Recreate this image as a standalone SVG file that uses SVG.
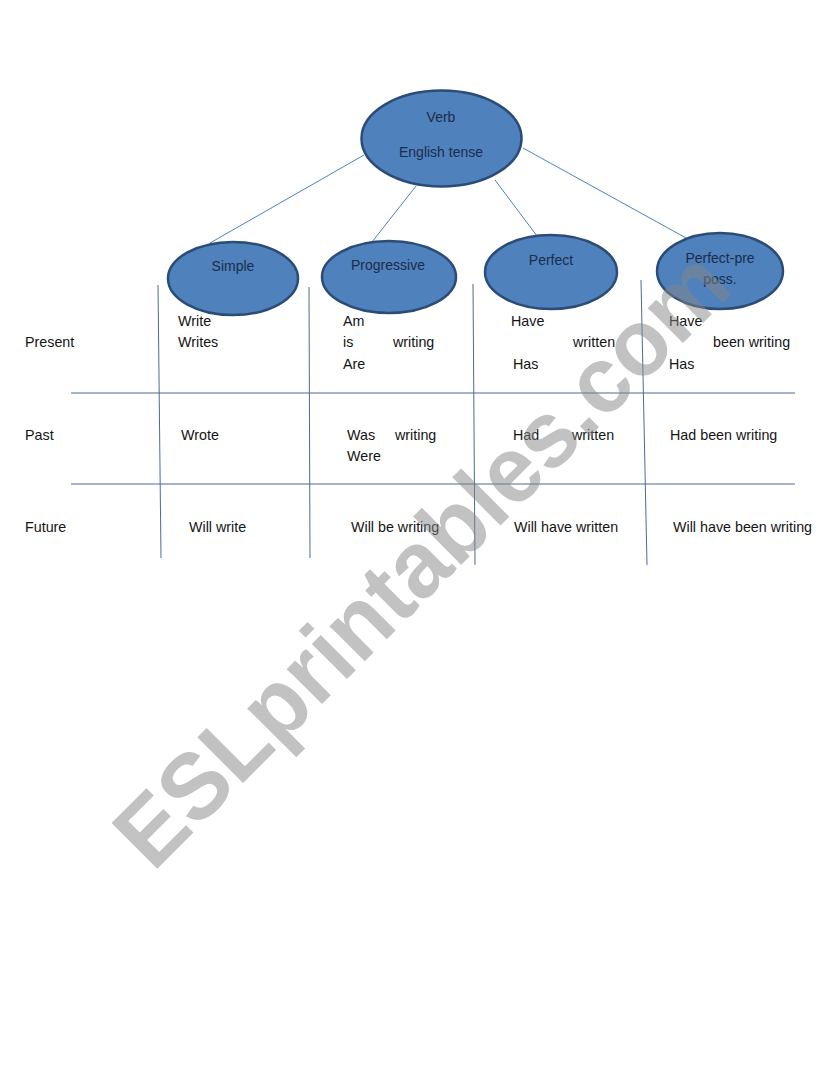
<svg xmlns="http://www.w3.org/2000/svg" width="838" height="1086" viewBox="0 0 838 1086">
<style>
.bg{fill:#ffffff}
.node ellipse{fill:#4f81bd;stroke:#2b4c76;stroke-width:2.5}
.node text{font-family:"Liberation Sans",Arial,sans-serif;font-size:14px;fill:#1d2c4a;text-anchor:middle}
.conn line{stroke:#4f81bd;stroke-width:1}
.grid line{stroke:#4d6b93;stroke-width:1}
.cell{font-family:"Liberation Sans",Arial,sans-serif;font-size:14.3px;fill:#141414}
.wm{font-family:"Liberation Sans",Arial,sans-serif;font-weight:bold;font-size:94px;fill:#858585;fill-opacity:0.5}
</style>
<rect class="bg" x="0" y="0" width="838" height="1086"/>
<g id="connectors" class="conn">
<line x1="364" y1="155" x2="210" y2="243"/>
<line x1="416" y1="186" x2="372" y2="242"/>
<line x1="495" y1="180" x2="537" y2="236"/>
<line x1="523" y1="148" x2="686" y2="238"/>
</g>
<g id="node-verb" class="node">
<ellipse cx="441.5" cy="138.5" rx="80" ry="48"/>
<text x="441" y="122">Verb</text>
<text x="441" y="157">English tense</text>
</g>
<g id="node-simple" class="node">
<ellipse cx="233" cy="278.5" rx="65" ry="36.5"/>
<text x="233" y="271">Simple</text>
</g>
<g id="node-progressive" class="node">
<ellipse cx="389" cy="277" rx="67" ry="36"/>
<text x="388" y="270">Progressive</text>
</g>
<g id="node-perfect" class="node">
<ellipse cx="551" cy="272" rx="66" ry="37"/>
<text x="551" y="265">Perfect</text>
</g>
<g id="node-perfect-pre" class="node">
<ellipse cx="720" cy="271" rx="63" ry="38"/>
<text x="720" y="263">Perfect-pre</text>
<text x="720" y="284">poss.</text>
</g>
<g id="grid" class="grid">
<line x1="158" y1="285" x2="161" y2="558"/>
<line x1="309" y1="287" x2="310" y2="558"/>
<line x1="473" y1="284" x2="475" y2="565"/>
<line x1="641" y1="280" x2="647" y2="565"/>
<line x1="71" y1="393" x2="795" y2="393"/>
<line x1="71" y1="484" x2="795" y2="484"/>
</g>
<g id="table-text" class="cell">
<text x="25" y="347">Present</text>
<text x="178" y="326">Write</text>
<text x="178" y="347">Writes</text>
<text x="343" y="326">Am</text>
<text x="343" y="347">is</text>
<text x="393" y="347">writing</text>
<text x="343" y="369">Are</text>
<text x="511" y="326">Have</text>
<text x="573" y="347">written</text>
<text x="513" y="369">Has</text>
<text x="669" y="326">Have</text>
<text x="713" y="347">been writing</text>
<text x="669" y="369">Has</text>
<text x="25" y="440">Past</text>
<text x="181" y="440">Wrote</text>
<text x="347" y="440">Was</text>
<text x="395" y="440">writing</text>
<text x="347" y="461">Were</text>
<text x="513" y="440">Had</text>
<text x="572" y="440">written</text>
<text x="670" y="440">Had been writing</text>
<text x="25" y="532">Future</text>
<text x="189" y="532">Will write</text>
<text x="351" y="532">Will be writing</text>
<text x="514" y="532">Will have written</text>
<text x="673" y="532">Will have been writing</text>
</g>
<text class="wm" x="153" y="873" transform="rotate(-45 153 873)" textLength="824" lengthAdjust="spacingAndGlyphs">ESLprintables.com</text>
</svg>
